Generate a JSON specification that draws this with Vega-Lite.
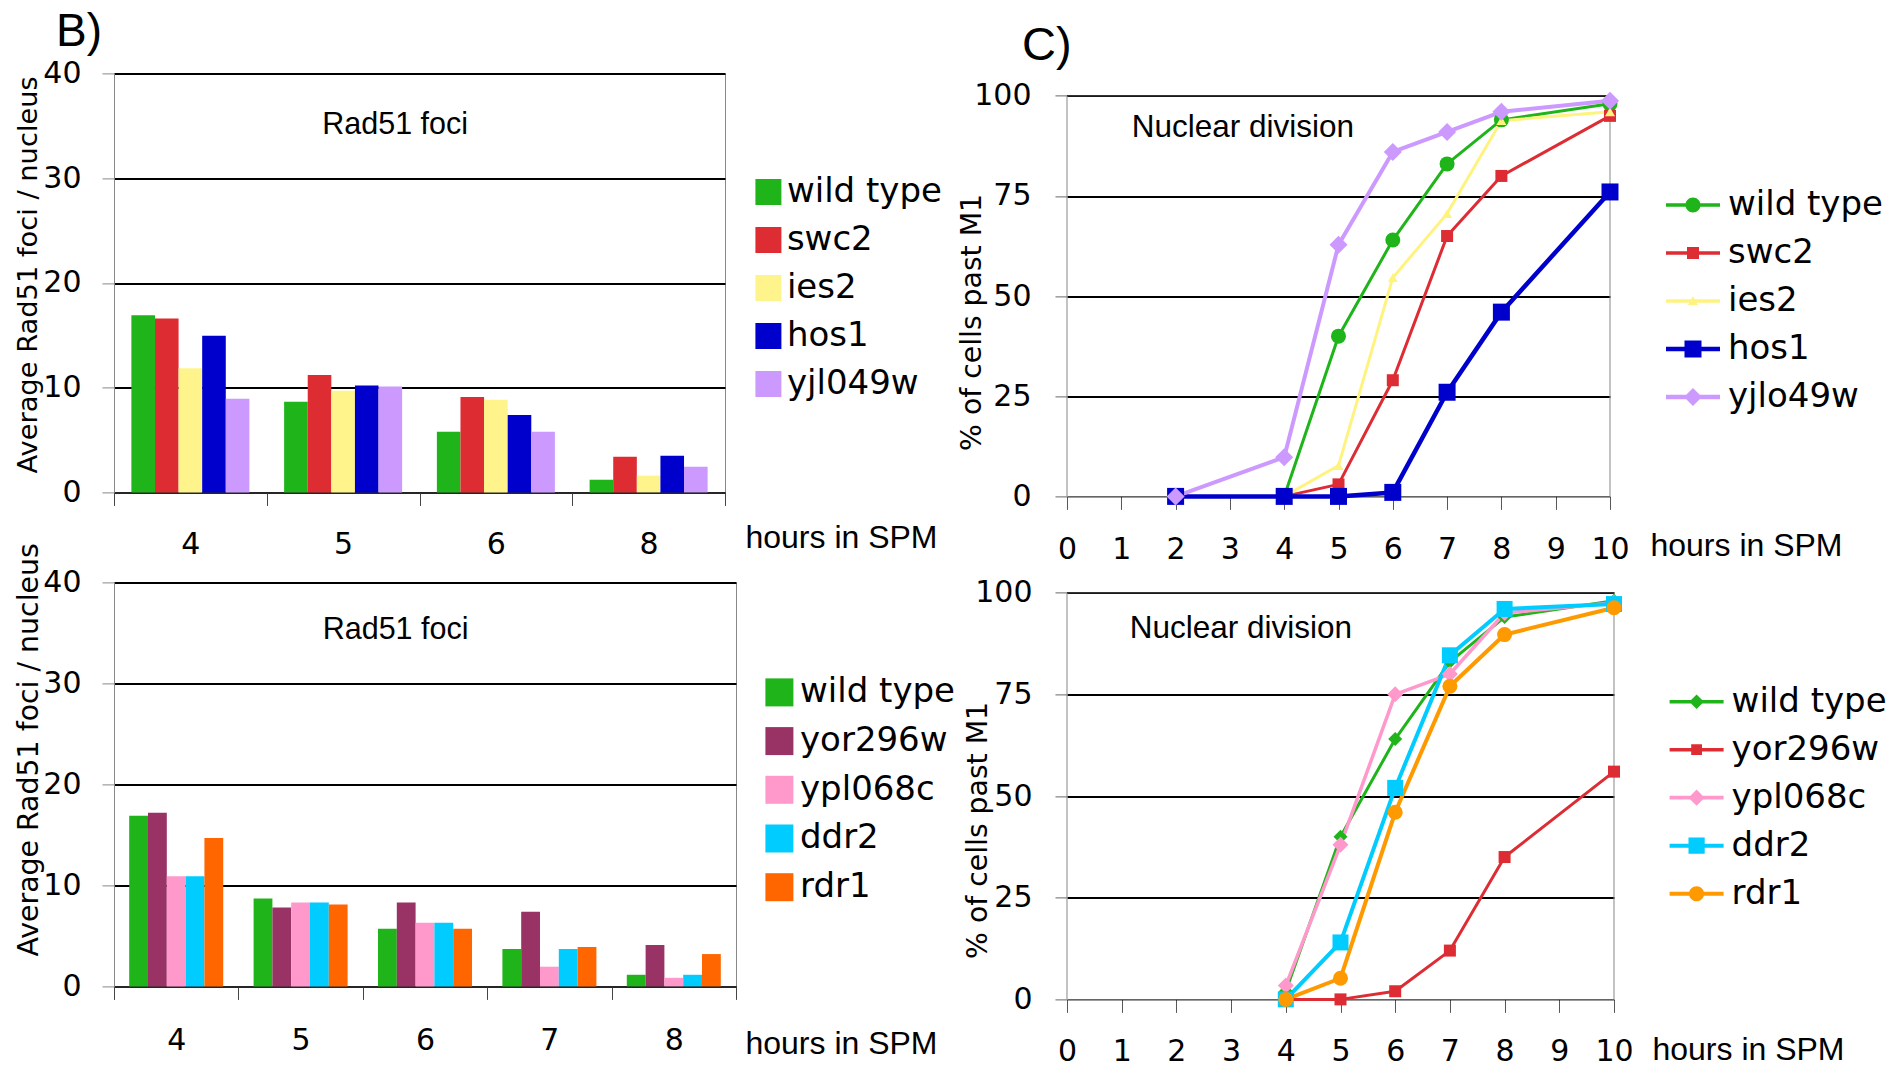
{
  "$schema": "https://vega.github.io/schema/vega-lite/v6.json",
  "background": "white",
  "padding": {"left": 13, "top": 8.4, "right": 0, "bottom": 0},
  "autosize": {"type": "pad"},
  "config": {
    "font": "DejaVu Sans",
    "view": {"stroke": null},
    "axis": {"labelFont": "DejaVu Sans", "labelFontSize": 30, "labelColor": "black", "titleFont": "DejaVu Sans", "titleFontWeight": "normal", "titleColor": "black", "domainColor": "#888", "tickColor": "#666", "tickSize": 12, "labelOverlap": false, "labelFlush": false},
    "legend": {"labelFont": "DejaVu Sans", "labelFontSize": 34, "labelColor": "black", "padding": 0, "titlePadding": 0, "labelLimit": 400},
    "title": {"font": "Liberation Sans", "fontSize": 46, "fontWeight": "normal", "color": "black", "anchor": "start"}
  },
  "datasets": {
    "barsTop": [
      {"hours": "4", "strain": "wild type", "foci": 16.9},
      {"hours": "4", "strain": "swc2", "foci": 16.6},
      {"hours": "4", "strain": "ies2", "foci": 11.85},
      {"hours": "4", "strain": "hos1", "foci": 14.95},
      {"hours": "4", "strain": "yjl049w", "foci": 8.95},
      {"hours": "5", "strain": "wild type", "foci": 8.65},
      {"hours": "5", "strain": "swc2", "foci": 11.2},
      {"hours": "5", "strain": "ies2", "foci": 9.7},
      {"hours": "5", "strain": "hos1", "foci": 10.2},
      {"hours": "5", "strain": "yjl049w", "foci": 10.1},
      {"hours": "6", "strain": "wild type", "foci": 5.8},
      {"hours": "6", "strain": "swc2", "foci": 9.1},
      {"hours": "6", "strain": "ies2", "foci": 8.85},
      {"hours": "6", "strain": "hos1", "foci": 7.4},
      {"hours": "6", "strain": "yjl049w", "foci": 5.8},
      {"hours": "8", "strain": "wild type", "foci": 1.2},
      {"hours": "8", "strain": "swc2", "foci": 3.4},
      {"hours": "8", "strain": "ies2", "foci": 1.6},
      {"hours": "8", "strain": "hos1", "foci": 3.5},
      {"hours": "8", "strain": "yjl049w", "foci": 2.45}
    ],
    "barsBottom": [
      {"hours": "4", "strain": "wild type", "foci": 16.9},
      {"hours": "4", "strain": "yor296w", "foci": 17.2},
      {"hours": "4", "strain": "ypl068c", "foci": 10.9},
      {"hours": "4", "strain": "ddr2", "foci": 10.9},
      {"hours": "4", "strain": "rdr1", "foci": 14.7},
      {"hours": "5", "strain": "wild type", "foci": 8.7},
      {"hours": "5", "strain": "yor296w", "foci": 7.8},
      {"hours": "5", "strain": "ypl068c", "foci": 8.3},
      {"hours": "5", "strain": "ddr2", "foci": 8.3},
      {"hours": "5", "strain": "rdr1", "foci": 8.1},
      {"hours": "6", "strain": "wild type", "foci": 5.7},
      {"hours": "6", "strain": "yor296w", "foci": 8.3},
      {"hours": "6", "strain": "ypl068c", "foci": 6.3},
      {"hours": "6", "strain": "ddr2", "foci": 6.3},
      {"hours": "6", "strain": "rdr1", "foci": 5.7},
      {"hours": "7", "strain": "wild type", "foci": 3.7},
      {"hours": "7", "strain": "yor296w", "foci": 7.4},
      {"hours": "7", "strain": "ypl068c", "foci": 1.95},
      {"hours": "7", "strain": "ddr2", "foci": 3.7},
      {"hours": "7", "strain": "rdr1", "foci": 3.9},
      {"hours": "8", "strain": "wild type", "foci": 1.15},
      {"hours": "8", "strain": "yor296w", "foci": 4.1},
      {"hours": "8", "strain": "ypl068c", "foci": 0.85},
      {"hours": "8", "strain": "ddr2", "foci": 1.15},
      {"hours": "8", "strain": "rdr1", "foci": 3.2}
    ],
    "linesTop": [
      {"h": 4, "strain": "wild type", "pct": 0},
      {"h": 5, "strain": "wild type", "pct": 40},
      {"h": 6, "strain": "wild type", "pct": 64},
      {"h": 7, "strain": "wild type", "pct": 83},
      {"h": 8, "strain": "wild type", "pct": 94},
      {"h": 10, "strain": "wild type", "pct": 98},
      {"h": 4, "strain": "swc2", "pct": 0},
      {"h": 5, "strain": "swc2", "pct": 3},
      {"h": 6, "strain": "swc2", "pct": 29},
      {"h": 7, "strain": "swc2", "pct": 65},
      {"h": 8, "strain": "swc2", "pct": 80},
      {"h": 10, "strain": "swc2", "pct": 95},
      {"h": 4, "strain": "ies2", "pct": 0},
      {"h": 5, "strain": "ies2", "pct": 7.7},
      {"h": 6, "strain": "ies2", "pct": 54.6},
      {"h": 7, "strain": "ies2", "pct": 70.6},
      {"h": 8, "strain": "ies2", "pct": 93.8},
      {"h": 10, "strain": "ies2", "pct": 96},
      {"h": 2, "strain": "hos1", "pct": 0},
      {"h": 4, "strain": "hos1", "pct": 0},
      {"h": 5, "strain": "hos1", "pct": 0},
      {"h": 6, "strain": "hos1", "pct": 1},
      {"h": 7, "strain": "hos1", "pct": 26},
      {"h": 8, "strain": "hos1", "pct": 46},
      {"h": 10, "strain": "hos1", "pct": 76},
      {"h": 2, "strain": "yjlo49w", "pct": 0},
      {"h": 4, "strain": "yjlo49w", "pct": 9.8},
      {"h": 5, "strain": "yjlo49w", "pct": 62.8},
      {"h": 6, "strain": "yjlo49w", "pct": 86},
      {"h": 7, "strain": "yjlo49w", "pct": 91},
      {"h": 8, "strain": "yjlo49w", "pct": 96},
      {"h": 10, "strain": "yjlo49w", "pct": 98.8}
    ],
    "linesBottom": [
      {"h": 4, "strain": "wild type", "pct": 2},
      {"h": 5, "strain": "wild type", "pct": 40},
      {"h": 6, "strain": "wild type", "pct": 64},
      {"h": 7, "strain": "wild type", "pct": 83},
      {"h": 8, "strain": "wild type", "pct": 94},
      {"h": 10, "strain": "wild type", "pct": 98},
      {"h": 4, "strain": "yor296w", "pct": 0},
      {"h": 5, "strain": "yor296w", "pct": 0},
      {"h": 6, "strain": "yor296w", "pct": 2},
      {"h": 7, "strain": "yor296w", "pct": 12},
      {"h": 8, "strain": "yor296w", "pct": 35},
      {"h": 10, "strain": "yor296w", "pct": 56},
      {"h": 4, "strain": "ypl068c", "pct": 3.4},
      {"h": 5, "strain": "ypl068c", "pct": 38},
      {"h": 6, "strain": "ypl068c", "pct": 75},
      {"h": 7, "strain": "ypl068c", "pct": 80},
      {"h": 8, "strain": "ypl068c", "pct": 95},
      {"h": 10, "strain": "ypl068c", "pct": 97.5},
      {"h": 4, "strain": "ddr2", "pct": 0},
      {"h": 5, "strain": "ddr2", "pct": 14},
      {"h": 6, "strain": "ddr2", "pct": 52},
      {"h": 7, "strain": "ddr2", "pct": 84.6},
      {"h": 8, "strain": "ddr2", "pct": 96},
      {"h": 10, "strain": "ddr2", "pct": 97.2},
      {"h": 4, "strain": "rdr1", "pct": 0},
      {"h": 5, "strain": "rdr1", "pct": 5.2},
      {"h": 6, "strain": "rdr1", "pct": 46},
      {"h": 7, "strain": "rdr1", "pct": 77},
      {"h": 8, "strain": "rdr1", "pct": 89.7},
      {"h": 10, "strain": "rdr1", "pct": 96.3}
    ]
  },
  "columns": 2,
  "bounds": "flush",
  "spacing": {"row": 86, "column": 331},
  "resolve": {
    "scale": {"color": "independent", "xOffset": "independent", "shape": "independent", "size": "independent", "strokeWidth": "independent"},
    "legend": {"color": "independent", "shape": "independent"}
  },
  "concat": [
    {
      "width": 611,
      "height": 419,
      "title": {"text": "B)", "frame": "group", "anchor": "start", "dx": -58, "dy": 46, "offset": 12, "baseline": "alphabetic", "fontSize": 46},
      "view": {"stroke": "#888", "strokeWidth": 1},
      "layer": [
        {
          "data": {"name": "barsTop"},
          "mark": {"type": "bar"},
          "encoding": {
            "x": {"field": "hours", "type": "ordinal", "scale": {"paddingInner": 0, "paddingOuter": 0},
              "axis": {"title": "hours in SPM", "labelAngle": 0, "tickBand": "extent", "tickSize": 13, "tickColor": "#444", "domainColor": "#333", "domainWidth": 1.5, "labelPadding": 24.6, "titleFont": "Liberation Sans", "titleFontSize": 32, "titleX": 631, "titleY": 55.6, "titleAlign": "left", "titleBaseline": "alphabetic"}},
            "xOffset": {"field": "strain", "type": "nominal", "scale": {"domain": ["wild type", "swc2", "ies2", "hos1", "yjl049w"], "paddingInner": 0, "paddingOuter": 0.736}},
            "y": {"field": "foci", "type": "quantitative", "scale": {"domain": [0, 40], "nice": false},
              "axis": {"values": [0, 10, 20, 30, 40], "grid": true, "gridColor": "black", "gridWidth": 2, "domainColor": "#888", "tickColor": "#888", "tickSize": 12, "labelPadding": 21, "title": "Average Rad51 foci / nucleus", "titleFontSize": 27.3, "titleAngle": -90, "titleX": -78, "titleY": 201, "titleAlign": "center", "titleBaseline": "alphabetic"}},
            "color": {"field": "strain", "type": "nominal",
              "scale": {"domain": ["wild type", "swc2", "ies2", "hos1", "yjl049w"], "range": ["#1EB41A", "#DE2C33", "#FFF48C", "#0000CC", "#CC99FF"]},
              "legend": {"orient": "none", "legendX": 637.4, "legendY": 101.6, "title": null, "symbolType": "square", "symbolSize": 676, "symbolStrokeWidth": 0, "labelOffset": 1.5, "rowPadding": 14, "labelFontSize": 34}}
          }
        },
        {
          "data": {"values": [{}]},
          "mark": {"type": "text", "font": "Liberation Sans", "fontSize": 30.5, "baseline": "alphabetic", "align": "center", "dx": 52},
          "encoding": {"x": {"datum": "5"}, "y": {"datum": 34.2}, "text": {"value": "Rad51 foci"}}
        }
      ]
    },
    {
      "width": 543,
      "height": 423,
      "title": {"text": "C)", "frame": "group", "anchor": "start", "dx": -45, "dy": 49, "offset": 15, "baseline": "alphabetic", "fontSize": 47},
      "layer": [
        {"data": {"values": [{}]}, "mark": {"type": "rule", "color": "#888", "strokeWidth": 1}, "encoding": {"x": {"datum": 10}, "y": {"datum": 0}, "y2": {"datum": 100}}},
        {"data": {"values": [{}]}, "mark": {"type": "rule", "color": "#888", "strokeWidth": 1}, "encoding": {"x": {"datum": 0}, "y": {"datum": 0}, "y2": {"datum": 100}}},
        {"data": {"values": [{}]}, "mark": {"type": "rule", "color": "#333", "strokeWidth": 1.5}, "encoding": {"x": {"datum": 0}, "x2": {"datum": 10}, "y": {"datum": 100}}},
        {
          "data": {"name": "linesTop"},
          "mark": {"type": "line", "strokeJoin": "round"},
          "encoding": {
            "x": {"field": "h", "type": "quantitative", "scale": {"domain": [0, 10], "nice": false, "zero": false},
              "axis": {"values": [0, 1, 2, 3, 4, 5, 6, 7, 8, 9, 10], "grid": false, "tickSize": 13, "tickColor": "#555", "domainColor": "black", "domainWidth": 1, "labelPadding": 25, "title": "hours in SPM", "titleFont": "Liberation Sans", "titleFontSize": 32, "titleX": 583, "titleY": 59.5, "titleAlign": "left", "titleBaseline": "alphabetic"}},
            "y": {"field": "pct", "type": "quantitative", "scale": {"domain": [0, 105.6], "nice": false},
              "axis": {"values": [0, 25, 50, 75, 100], "grid": true, "gridColor": "black", "gridWidth": 2, "gridOpacity": {"condition": {"test": "datum.value === 0", "value": 0}, "value": 1}, "domain": false, "tickSize": 12, "tickColor": "#666", "labelPadding": 24, "title": "% of cells past M1", "titleFontSize": 28.3, "titleAngle": -90, "titleX": -86, "titleY": 248.5, "titleAlign": "center", "titleBaseline": "alphabetic"}},
            "color": {"field": "strain", "type": "nominal", "scale": {"domain": ["wild type", "swc2", "ies2", "hos1", "yjlo49w"], "range": ["#1EB41A", "#DD2C33", "#FFF380", "#0000CC", "#CC99FF"]}, "legend": null},
            "strokeWidth": {"field": "strain", "type": "nominal", "scale": {"type": "ordinal", "domain": ["wild type", "swc2", "ies2", "hos1", "yjlo49w"], "range": [3, 3, 3, 4.5, 4]}, "legend": null}
          }
        },
        {
          "data": {"name": "linesTop"},
          "mark": {"type": "point", "filled": true, "opacity": 1},
          "encoding": {
            "x": {"field": "h", "type": "quantitative"},
            "y": {"field": "pct", "type": "quantitative"},
            "color": {"field": "strain", "type": "nominal", "scale": {"domain": ["wild type", "swc2", "ies2", "hos1", "yjlo49w"], "range": ["#1EB41A", "#DD2C33", "#FFF380", "#0000CC", "#CC99FF"]}, "legend": null},
            "shape": {"field": "strain", "type": "nominal", "scale": {"domain": ["wild type", "swc2", "ies2", "hos1", "yjlo49w"], "range": ["circle", "square", "triangle-up", "square", "diamond"]}, "legend": null},
            "size": {"field": "strain", "type": "nominal", "scale": {"type": "ordinal", "domain": ["wild type", "swc2", "ies2", "hos1", "yjlo49w"], "range": [225, 144, 100, 289, 324]}, "legend": null}
          }
        },
        {
          "data": {"name": "linesTop"},
          "transform": [{"filter": "false"}],
          "mark": {"type": "point", "filled": true, "opacity": 1},
          "encoding": {
            "x": {"field": "h", "type": "quantitative"},
            "y": {"field": "pct", "type": "quantitative"},
            "color": {"field": "strain", "type": "nominal", "scale": {"domain": ["wild type", "swc2", "ies2", "hos1", "yjlo49w"], "range": ["#1EB41A", "#DD2C33", "#FFF380", "#0000CC", "#CC99FF"]},
              "legend": {"orient": "none", "legendX": 599, "legendY": 104.6, "title": null, "symbolSize": 2916, "symbolStrokeWidth": 0, "labelOffset": 8, "rowPadding": 4, "labelFontSize": 34, "symbolOpacity": 1}},
            "shape": {"field": "strain", "type": "nominal", "scale": {"domain": ["wild type", "swc2", "ies2", "hos1", "yjlo49w"], "range": [
              "M-1,-0.063H1V0.063H-1ZM-0.278,0A0.278,0.278,0,1,1,0.278,0A0.278,0.278,0,1,1,-0.278,0Z",
              "M-1,-0.063H1V0.063H-1ZM-0.222,-0.222H0.222V0.222H-0.222Z",
              "M-1,-0.063H1V0.063H-1ZM0,-0.185L0.185,0.15H-0.185Z",
              "M-1,-0.08H1V0.08H-1ZM-0.315,-0.315H0.315V0.315H-0.315Z",
              "M-1,-0.08H1V0.08H-1ZM0,-0.333L0.333,0L0,0.333L-0.333,0Z"]},
              "legend": {"orient": "none", "legendX": 599, "legendY": 104.6, "title": null, "symbolSize": 2916, "symbolStrokeWidth": 0, "labelOffset": 8, "rowPadding": 4, "labelFontSize": 34, "symbolOpacity": 1}}
          }
        },
        {
          "data": {"values": [{}]},
          "mark": {"type": "text", "font": "Liberation Sans", "fontSize": 31.5, "baseline": "alphabetic", "align": "center"},
          "encoding": {"x": {"datum": 3.24}, "y": {"datum": 89.6}, "text": {"value": "Nuclear division"}}
        }
      ],
      "resolve": {"scale": {"color": "independent", "shape": "independent", "size": "independent", "strokeWidth": "independent"}}
    },
    {
      "width": 622,
      "height": 404,
      "view": {"stroke": "#888", "strokeWidth": 1},
      "layer": [
        {
          "data": {"name": "barsBottom"},
          "mark": {"type": "bar"},
          "encoding": {
            "x": {"field": "hours", "type": "ordinal", "scale": {"paddingInner": 0, "paddingOuter": 0},
              "axis": {"title": "hours in SPM", "labelAngle": 0, "tickBand": "extent", "tickSize": 13, "tickColor": "#444", "domainColor": "#333", "domainWidth": 1.5, "labelPadding": 26, "titleFont": "Liberation Sans", "titleFontSize": 32, "titleX": 631, "titleY": 67, "titleAlign": "left", "titleBaseline": "alphabetic"}},
            "xOffset": {"field": "strain", "type": "nominal", "scale": {"domain": ["wild type", "yor296w", "ypl068c", "ddr2", "rdr1"], "paddingInner": 0, "paddingOuter": 0.808}},
            "y": {"field": "foci", "type": "quantitative", "scale": {"domain": [0, 40], "nice": false},
              "axis": {"values": [0, 10, 20, 30, 40], "grid": true, "gridColor": "black", "gridWidth": 2, "domainColor": "#888", "tickColor": "#888", "tickSize": 12, "labelPadding": 21, "title": "Average Rad51 foci / nucleus", "titleFontSize": 28.4, "titleAngle": -90, "titleX": -77, "titleY": 167, "titleAlign": "center", "titleBaseline": "alphabetic"}},
            "color": {"field": "strain", "type": "nominal",
              "scale": {"domain": ["wild type", "yor296w", "ypl068c", "ddr2", "rdr1"], "range": ["#1EB41A", "#993366", "#FF99CC", "#00CCFF", "#FF6600"]},
              "legend": {"orient": "none", "legendX": 648.4, "legendY": 93, "title": null, "symbolType": "square", "symbolSize": 784, "symbolStrokeWidth": 0, "labelOffset": 3.6, "rowPadding": 14.7, "labelFontSize": 34}}
          }
        },
        {
          "data": {"values": [{}]},
          "mark": {"type": "text", "font": "Liberation Sans", "fontSize": 30.5, "baseline": "alphabetic", "align": "center", "dx": 95},
          "encoding": {"x": {"datum": "5"}, "y": {"datum": 34.4}, "text": {"value": "Rad51 foci"}}
        }
      ]
    },
    {
      "width": 547,
      "height": 417,
      "layer": [
        {"data": {"values": [{}]}, "mark": {"type": "rule", "color": "#888", "strokeWidth": 1}, "encoding": {"x": {"datum": 10}, "y": {"datum": 0}, "y2": {"datum": 100}}},
        {"data": {"values": [{}]}, "mark": {"type": "rule", "color": "#888", "strokeWidth": 1}, "encoding": {"x": {"datum": 0}, "y": {"datum": 0}, "y2": {"datum": 100}}},
        {"data": {"values": [{}]}, "mark": {"type": "rule", "color": "#333", "strokeWidth": 1.5}, "encoding": {"x": {"datum": 0}, "x2": {"datum": 10}, "y": {"datum": 100}}},
        {
          "data": {"name": "linesBottom"},
          "mark": {"type": "line", "strokeJoin": "round"},
          "encoding": {
            "x": {"field": "h", "type": "quantitative", "scale": {"domain": [0, 10], "nice": false, "zero": false},
              "axis": {"values": [0, 1, 2, 3, 4, 5, 6, 7, 8, 9, 10], "grid": false, "tickSize": 13, "tickColor": "#555", "domainColor": "black", "domainWidth": 1, "labelPadding": 24, "title": "hours in SPM", "titleFont": "Liberation Sans", "titleFontSize": 32, "titleX": 585, "titleY": 60, "titleAlign": "left", "titleBaseline": "alphabetic"}},
            "y": {"field": "pct", "type": "quantitative", "scale": {"domain": [0, 102.53], "nice": false},
              "axis": {"values": [0, 25, 50, 75, 100], "grid": true, "gridColor": "black", "gridWidth": 2, "gridOpacity": {"condition": {"test": "datum.value === 0", "value": 0}, "value": 1}, "domain": false, "tickSize": 12, "tickColor": "#666", "labelPadding": 23, "title": "% of cells past M1", "titleFontSize": 28.3, "titleAngle": -90, "titleX": -80, "titleY": 247.5, "titleAlign": "center", "titleBaseline": "alphabetic"}},
            "color": {"field": "strain", "type": "nominal", "scale": {"domain": ["wild type", "yor296w", "ypl068c", "ddr2", "rdr1"], "range": ["#1EB41A", "#DD2C33", "#FF99CC", "#00CCFF", "#FF9900"]}, "legend": null},
            "strokeWidth": {"field": "strain", "type": "nominal", "scale": {"type": "ordinal", "domain": ["wild type", "yor296w", "ypl068c", "ddr2", "rdr1"], "range": [3, 3, 3.5, 4, 4]}, "legend": null}
          }
        },
        {
          "data": {"name": "linesBottom"},
          "mark": {"type": "point", "filled": true, "opacity": 1},
          "encoding": {
            "x": {"field": "h", "type": "quantitative"},
            "y": {"field": "pct", "type": "quantitative"},
            "color": {"field": "strain", "type": "nominal", "scale": {"domain": ["wild type", "yor296w", "ypl068c", "ddr2", "rdr1"], "range": ["#1EB41A", "#DD2C33", "#FF99CC", "#00CCFF", "#FF9900"]}, "legend": null},
            "shape": {"field": "strain", "type": "nominal", "scale": {"domain": ["wild type", "yor296w", "ypl068c", "ddr2", "rdr1"], "range": ["diamond", "square", "diamond", "square", "circle"]}, "legend": null},
            "size": {"field": "strain", "type": "nominal", "scale": {"type": "ordinal", "domain": ["wild type", "yor296w", "ypl068c", "ddr2", "rdr1"], "range": [196, 144, 256, 256, 225]}, "legend": null}
          }
        },
        {
          "data": {"name": "linesBottom"},
          "transform": [{"filter": "false"}],
          "mark": {"type": "point", "filled": true, "opacity": 1},
          "encoding": {
            "x": {"field": "h", "type": "quantitative"},
            "y": {"field": "pct", "type": "quantitative"},
            "color": {"field": "strain", "type": "nominal", "scale": {"domain": ["wild type", "yor296w", "ypl068c", "ddr2", "rdr1"], "range": ["#1EB41A", "#DD2C33", "#FF99CC", "#00CCFF", "#FF9900"]},
              "legend": {"orient": "none", "legendX": 602.6, "legendY": 92.3, "title": null, "symbolSize": 2916, "symbolStrokeWidth": 0, "labelOffset": 8, "rowPadding": 4, "labelFontSize": 34, "symbolOpacity": 1}},
            "shape": {"field": "strain", "type": "nominal", "scale": {"domain": ["wild type", "yor296w", "ypl068c", "ddr2", "rdr1"], "range": [
              "M-1,-0.063H1V0.063H-1ZM0,-0.27L0.27,0L0,0.27L-0.27,0Z",
              "M-1,-0.063H1V0.063H-1ZM-0.2,-0.2H0.2V0.2H-0.2Z",
              "M-1,-0.07H1V0.07H-1ZM0,-0.3L0.3,0L0,0.3L-0.3,0Z",
              "M-1,-0.075H1V0.075H-1ZM-0.3,-0.3H0.3V0.3H-0.3Z",
              "M-1,-0.075H1V0.075H-1ZM-0.28,0A0.28,0.28,0,1,1,0.28,0A0.28,0.28,0,1,1,-0.28,0Z"]},
              "legend": {"orient": "none", "legendX": 602.6, "legendY": 92.3, "title": null, "symbolSize": 2916, "symbolStrokeWidth": 0, "labelOffset": 8, "rowPadding": 4, "labelFontSize": 34, "symbolOpacity": 1}}
          }
        },
        {
          "data": {"values": [{}]},
          "mark": {"type": "text", "font": "Liberation Sans", "fontSize": 31.5, "baseline": "alphabetic", "align": "center"},
          "encoding": {"x": {"datum": 3.18}, "y": {"datum": 88.9}, "text": {"value": "Nuclear division"}}
        }
      ],
      "resolve": {"scale": {"color": "independent", "shape": "independent", "size": "independent", "strokeWidth": "independent"}}
    }
  ]
}
